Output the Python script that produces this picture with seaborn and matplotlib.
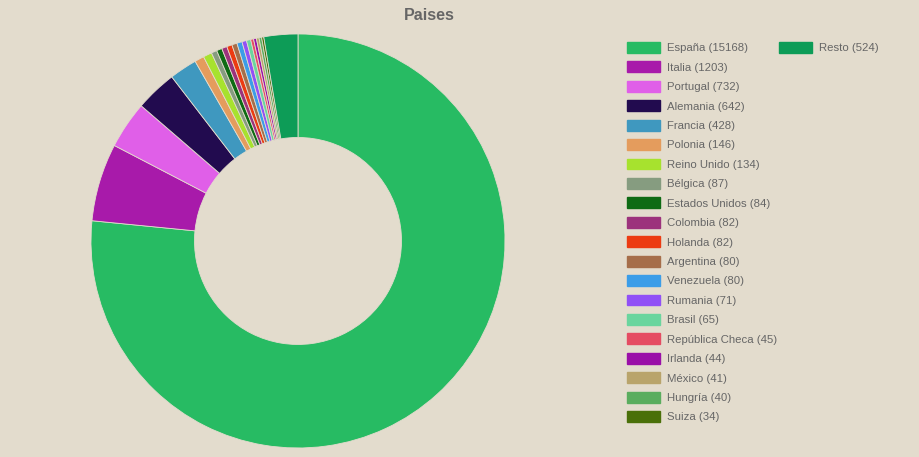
import matplotlib
matplotlib.use("Agg")
import matplotlib.pyplot as plt
import matplotlib.patches as mpatches
import seaborn as sns

# datos
paises = ["España", "Italia", "Portugal", "Alemania", "Francia", "Polonia",
          "Reino Unido", "Bélgica", "Estados Unidos", "Colombia", "Holanda",
          "Argentina", "Venezuela", "Rumania", "Brasil", "República Checa",
          "Irlanda", "México", "Hungría", "Suiza", "Resto"]
valores = [15168, 1203, 732, 642, 428, 146, 134, 87, 84, 82, 82, 80, 80,
           71, 65, 45, 44, 41, 40, 34, 524]
colores = ["#27bb63", "#a81aaa", "#e05fe8", "#220b4f", "#3f98bf", "#e49c5d",
           "#a7e22e", "#869c80", "#0e6b14", "#9c327c", "#ec3b12", "#a66e4a",
           "#3b9de8", "#9150f6", "#6ad59e", "#e54c62", "#9a0fa8", "#b9a46b",
           "#5aad5e", "#4a7009", "#0d9c57"]

fondo = "#e3dccd"
gris = "#666666"

sns.set_style("white")
plt.rcParams["font.family"] = ["Liberation Sans", "DejaVu Sans"]

fig = plt.figure(figsize=(9.2, 4.57), dpi=100)
fig.patch.set_facecolor(fondo)

# donut
ax = fig.add_axes([0.0989, 0.0197, 0.45, 0.906])
ax.set_facecolor(fondo)
ax.pie(valores, colors=colores, startangle=90, counterclock=False,
       radius=1.0,
       wedgeprops=dict(width=0.5, edgecolor=fondo, linewidth=0.6))
ax.set_xlim(-1, 1)
ax.set_ylim(-1, 1)
ax.set_aspect("equal")
ax.axis("off")

fig.text(0.467, 0.966, "Paises", ha="center", va="center",
         fontsize=11.5, fontweight="bold", color=gris)

etiquetas = [f"{p} ({v})" for p, v in zip(paises, valores)]
handles = [mpatches.Patch(facecolor=c, edgecolor=c) for c in colores]

ley_kw = dict(frameon=False, fontsize=8.2, labelcolor=gris,
              handlelength=2.9, handleheight=1.1, handletextpad=0.6,
              labelspacing=0.71, borderpad=0, borderaxespad=0)

ley1 = fig.legend(handles[:-1], etiquetas[:-1], loc="upper left",
                  bbox_to_anchor=(627 / 920, 1 - 42 / 457), **ley_kw)
ley2 = fig.legend(handles[-1:], etiquetas[-1:], loc="upper left",
                  bbox_to_anchor=(779 / 920, 1 - 42 / 457), **ley_kw)

fig.savefig("out.png", dpi=100, facecolor=fondo)
